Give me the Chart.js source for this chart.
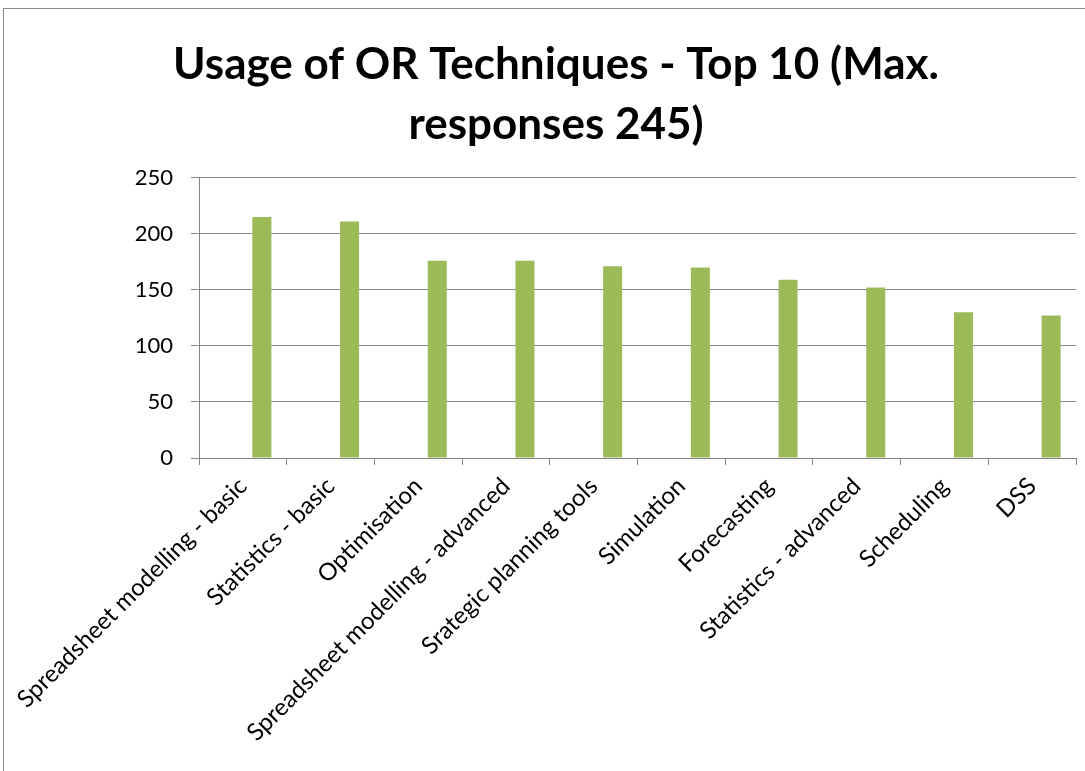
<!DOCTYPE html>
<html>
<head>
<meta charset="utf-8">
<script src="https://cdn.jsdelivr.net/npm/chart.js@4.4.1/dist/chart.umd.min.js"></script>
<style>
  html, body { margin:0; padding:0; background:#fff; }
  #wrap { position:relative; width:1085px; height:771px; overflow:hidden; }
  #frame { position:absolute; left:3px; top:8px; width:1200px; height:900px; border-left:1px solid #8c8c8c; border-top:1px solid #8c8c8c; }
  canvas { position:absolute; left:0; top:0; }
</style>
</head>
<body>
<div id="wrap">
  <div id="frame"></div>
  <canvas id="chart" width="1085" height="771"></canvas>
</div>
<script>
// ----- data -----
const titleLines = ["Usage of OR Techniques - Top 10 (Max.", "responses 245)"];
const categories = [
  "Spreadsheet modelling - basic",
  "Statistics - basic",
  "Optimisation",
  "Spreadsheet modelling - advanced",
  "Srategic planning tools",
  "Simulation",
  "Forecasting",
  "Statistics - advanced",
  "Scheduling",
  "DSS"
];
const responses = [215, 211, 176, 176, 171, 170, 159, 152, 130, 127];
const emptySeries = [null, null, null, null, null, null, null, null, null, null];
const yTicks = [0, 50, 100, 150, 200, 250];

const FONT = "Lato, 'Open Sans', sans-serif";
const gridCol = "#868686";

const ctx = document.getElementById("chart").getContext("2d");
new Chart(ctx, {
  type: "bar",
  data: {
    labels: categories,
    datasets: [
      { label: "", data: emptySeries, backgroundColor: "rgba(0,0,0,0)", borderWidth: 0,
        barPercentage: 0.5, categoryPercentage: 0.867 },
      { label: "Responses", data: responses, backgroundColor: "#9bbb59", borderWidth: 0,
        barPercentage: 0.5, categoryPercentage: 0.867 }
    ]
  },
  options: {
    responsive: false,
    animation: false,
    layout: { padding: { left: 36, right: 9, top: 0, bottom: 0 } },
    plugins: {
      legend: { display: false },
      tooltip: { enabled: false },
      title: {
        display: true,
        text: titleLines,
        color: "#000",
        font: { family: FONT, size: 44, weight: "bold", lineHeight: 1.36 },
        padding: { top: 35, bottom: 23 }
      }
    },
    scales: {
      x: {
        grid: { display: true, offset: true, drawOnChartArea: false, drawTicks: true, tickLength: 7, color: gridCol },
        border: { color: gridCol, width: 1 },
        ticks: { color: "#000", font: { family: FONT, size: 24 }, minRotation: 45, maxRotation: 45, autoSkip: false, padding: 7 },
        afterFit: function(scale){ scale.height = 313; scale.paddingLeft = 0; scale.paddingRight = 0; }
      },
      y: {
        min: 0, max: 250,
        afterBuildTicks: function(scale){ scale.ticks = yTicks.map(v => ({ value: v })); },
        grid: { color: gridCol, lineWidth: 1, tickLength: 8 },
        border: { color: gridCol, width: 1 },
        ticks: { color: "#000", font: { family: FONT, size: 22 }, padding: 18 },
        afterFit: function(scale){ scale.width = 163; scale.paddingTop = 0; scale.paddingBottom = 0; }
      }
    }
  }
});
</script>
</body>
</html>
